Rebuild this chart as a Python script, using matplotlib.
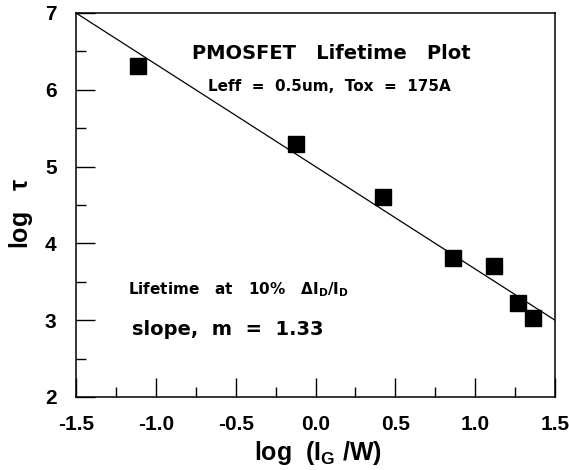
import matplotlib
matplotlib.use("Agg")
import matplotlib.pyplot as plt
from matplotlib.ticker import MultipleLocator

plt.rcParams['font.family'] = ['Liberation Sans', 'DejaVu Sans']
plt.rcParams['mathtext.fontset'] = 'custom'
plt.rcParams['mathtext.rm'] = 'Liberation Sans:bold'
plt.rcParams['mathtext.it'] = 'Liberation Sans:bold'
plt.rcParams['mathtext.bf'] = 'Liberation Sans:bold'

log_ig_w = [-1.11, -0.12, 0.42, 0.86, 1.12, 1.27, 1.36]
log_tau = [6.31, 5.30, 4.61, 3.81, 3.71, 3.22, 3.03]
fit_x = [-1.5, 1.5]
fit_y = [7.0, 3.0]
xticks = [-1.5, -1.0, -0.5, 0.0, 0.5, 1.0, 1.5]
yticks = [2, 3, 4, 5, 6, 7]

fig = plt.figure(figsize=(5.69, 4.70), dpi=100)
ax = fig.add_axes([76/569, 1-397/470, (555-76)/569, (397-13)/470])

ax.plot(fit_x, fit_y, color='black', lw=0.9)
ax.plot(log_ig_w, log_tau, ls='none', marker='s', ms=12, color='black')

ax.set_xlim(-1.5, 1.5)
ax.set_ylim(2, 7)
ax.set_xticks(xticks)
ax.set_xticklabels([f"{t:.1f}" for t in xticks])
ax.set_yticks(yticks)
ax.xaxis.set_minor_locator(MultipleLocator(0.25))
ax.yaxis.set_minor_locator(MultipleLocator(0.5))
ax.tick_params(which='major', direction='in', length=14, width=1.0)
ax.tick_params(which='minor', direction='in', length=7, width=1.0)
ax.tick_params(axis='x', labelsize=15, pad=13)
ax.tick_params(axis='y', labelsize=15, pad=14)
for lab in ax.get_xticklabels() + ax.get_yticklabels():
    lab.set_fontweight('bold')
for s in ax.spines.values():
    s.set_linewidth(1.1)

ax.set_xlabel(r'log  (I$_\mathregular{G}$ /W)', fontsize=18, fontweight='bold', va='center')
ax.xaxis.set_label_coords(0.505, -0.145)
ax.set_ylabel(r'log   $\tau$', fontsize=18, fontweight='bold', va='center', ha='center')
ax.yaxis.set_label_coords(-0.115, 0.479)

dv = ['DejaVu Sans']
ax.text(0.532, 0.894, 'PMOSFET   Lifetime   Plot', transform=ax.transAxes,
        ha='center', va='center', fontsize=14, fontweight='bold', family=dv)
ax.text(0.529, 0.808, 'Leff  =  0.5um,  Tox  =  175A', transform=ax.transAxes,
        ha='center', va='center', fontsize=11, fontweight='bold', family=dv)
ax.text(0.108, 0.28, r'Lifetime   at   10%   $\mathregular{\Delta}$I$_\mathregular{D}$/I$_\mathregular{D}$',
        transform=ax.transAxes, ha='left', va='center', fontsize=11,
        fontweight='bold', family=dv)
ax.text(0.117, 0.176, 'slope,  m  =  1.33', transform=ax.transAxes,
        ha='left', va='center', fontsize=14, fontweight='bold', family=dv)

fig.savefig('out.png', dpi=100)
